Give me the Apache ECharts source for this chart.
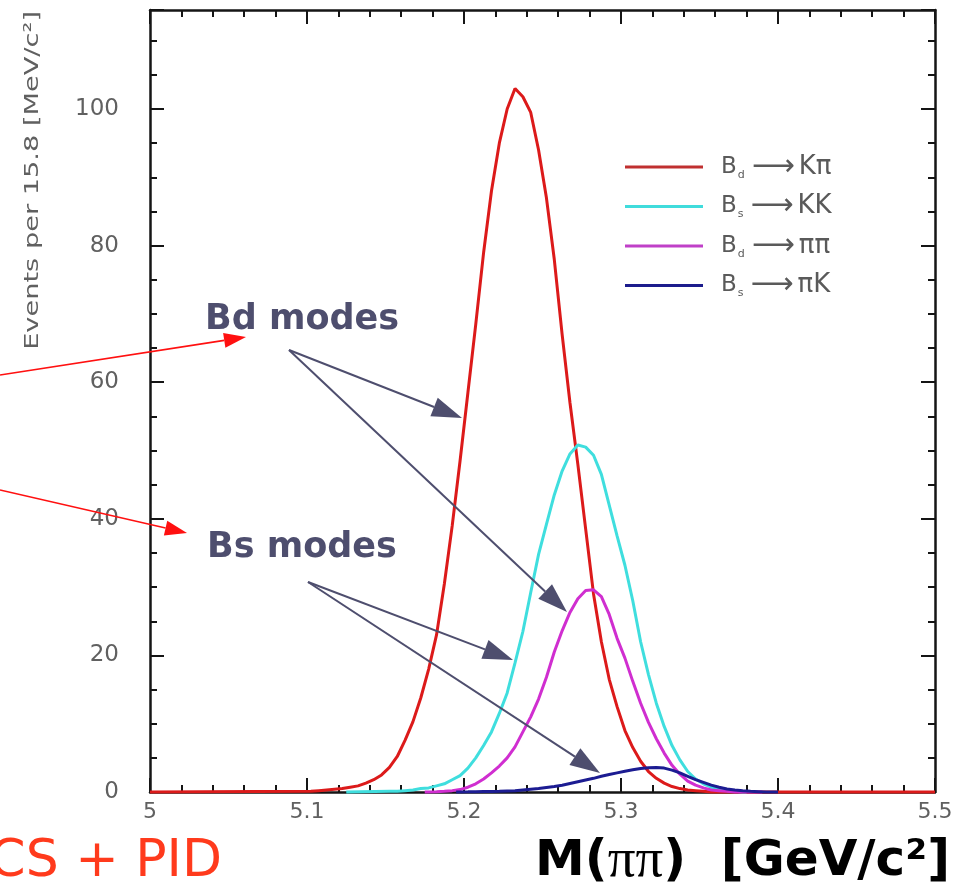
<!DOCTYPE html>
<html><head><meta charset="utf-8">
<script src="https://cdn.jsdelivr.net/npm/echarts@6/dist/echarts.min.js"></script>
<style>html,body{margin:0;padding:0;background:#fff}#c{width:966px;height:892px}</style>
</head><body><div id="c"></div>
<script>
// ---- data ----
const binWidth = 0.005;                       // GeV per bin (visual estimate)
const seriesNames = ['Bd → Kπ', 'Bs → KK', 'Bd → ππ', 'Bs → πK'];
const subscripts = ['d', 's', 'd', 's'];
const finalStates = ['Kπ', 'KK', 'ππ', 'πK'];
const xTickValues = [5, 5.1, 5.2, 5.3, 5.4, 5.5];
const yTickValues = [0, 20, 40, 60, 80, 100];

// Bd -> K pi (red)
const redStart = 5.100;
const redRange = [5.0, 5.5];
const redValues = [0.1, 0.2, 0.3, 0.4, 0.5, 0.7, 0.9, 1.3, 1.8, 2.5, 3.6, 5.2, 7.6, 10.3, 13.8, 18.0,
  23.0, 30.5, 39.0, 48.5, 58.5, 68.5, 79.0, 88.0, 95.0, 100.0, 103.0, 101.8, 99.5, 94.0, 87.0, 78.0,
  67.0, 57.0, 48.0, 38.5, 29.0, 22.0, 16.5, 12.5, 9.0, 6.5, 4.5, 3.0, 2.0, 1.3, 0.8, 0.5, 0.3, 0.2, 0.1];

// Bs -> K K (cyan)
const cyanStart = 5.150;
const cyanRange = [5.125, 5.38];
const cyanValues = [0.1, 0.1, 0.2, 0.3, 0.5, 0.6, 0.9, 1.2, 1.8, 2.4, 3.5, 5.0, 6.8, 8.8, 11.5, 14.5,
  18.9, 23.5, 29.2, 34.8, 39.2, 43.5, 47.0, 49.5, 50.8, 50.5, 49.3, 46.5, 42.0, 37.5, 33.2, 28.0,
  22.0, 17.2, 13.0, 9.6, 6.8, 4.7, 3.0, 1.9, 1.2, 0.7, 0.4, 0.2, 0.1];

// Bd -> pi pi (magenta)
const magentaStart = 5.180;
const magentaRange = [5.175, 5.39];
const magentaValues = [0.05, 0.1, 0.2, 0.35, 0.7, 1.2, 1.9, 2.8, 3.8, 5.0, 6.6, 8.8, 11.0, 13.6, 16.8,
  20.5, 23.6, 26.3, 28.3, 29.5, 29.6, 28.6, 26.0, 22.5, 19.6, 16.2, 13.0, 10.2, 7.8, 5.7, 3.9, 2.6,
  1.6, 1.0, 0.6, 0.3, 0.2, 0.1];

// Bs -> pi K (blue)
const blueStart = 5.200;
const blueRange = [5.195, 5.40];
const blueValues = [0.02, 0.04, 0.06, 0.08, 0.1, 0.15, 0.2, 0.3, 0.4, 0.5, 0.65, 0.8, 1.0, 1.25, 1.5,
  1.75, 2.0, 2.3, 2.55, 2.8, 3.05, 3.25, 3.45, 3.55, 3.6, 3.5, 3.2, 2.8, 2.3, 1.8, 1.4, 1.0, 0.7,
  0.45, 0.3, 0.18, 0.1, 0.05];

// ---- build points at bin centres ----
function hist(start, vals, range) {
  const pts = [[range[0], 0]];
  vals.forEach((v, i) => pts.push([+(start + (i + 0.5) * binWidth).toFixed(5), v]));
  pts.push([+(start + (vals.length + 0.5) * binWidth).toFixed(5), 0]);
  pts.push([range[1], 0]);
  return pts;
}

const colors = ['#dc1a1a', '#3fdede', '#d02ed0', '#1c1c92'];
const legendColors = ['#c03030', '#40dcdc', '#c040c8', '#1c1c8c'];
const histData = [
  hist(redStart, redValues, redRange),
  hist(cyanStart, cyanValues, cyanRange),
  hist(magentaStart, magentaValues, magentaRange),
  hist(blueStart, blueValues, blueRange)
];

// ---- annotation helpers ----
function arrow(x1, y1, x2, y2, color, width, headLen, headW) {
  const dx = x2 - x1, dy = y2 - y1, L = Math.hypot(dx, dy);
  const ux = dx / L, uy = dy / L, nx = -uy, ny = ux;
  const bx = x2 - ux * headLen, by = y2 - uy * headLen;
  return [
    { type: 'line', silent: true, z: 50, shape: { x1: x1, y1: y1, x2: bx, y2: by },
      style: { stroke: color, lineWidth: width } },
    { type: 'polygon', silent: true, z: 50,
      shape: { points: [[x2, y2], [bx + nx * headW / 2, by + ny * headW / 2], [bx - nx * headW / 2, by - ny * headW / 2]] },
      style: { fill: color } }
  ];
}
const slate = '#4e4e6e';
const axisColor = '#151515';
const tickColor = '#151515';

function yAxisDef(pos, interval, len, labels, line) {
  return {
    type: 'value', min: 0, max: 114.5, interval: interval, position: pos,
    axisLine: { show: line, onZero: false, lineStyle: { color: axisColor, width: 2.5 } },
    axisTick: { show: true, inside: true, length: len, lineStyle: { color: tickColor, width: 2 } },
    axisLabel: labels ? {
      show: true, margin: 31, color: '#606060', fontSize: 23, fontFamily: 'DejaVu Sans',
      formatter: v => (yTickValues.indexOf(v) >= 0 ? String(v) : '')
    } : { show: false },
    splitLine: { show: false }
  };
}
function xAxisDef(pos, labels) {
  return {
    type: 'value', min: 5, max: 5.5, interval: 0.1, position: pos,
    axisLine: { show: true, onZero: false, lineStyle: { color: axisColor, width: 2.5 } },
    axisTick: { show: true, inside: true, length: 14, lineStyle: { color: tickColor, width: 2 } },
    minorTick: { show: true, splitNumber: 5, length: 7, lineStyle: { color: tickColor, width: 2 } },
    axisLabel: labels ? {
      show: true, margin: 9, color: '#606060', fontSize: 22, fontFamily: 'DejaVu Sans',
      formatter: v => {
        const r = +(+v).toFixed(1);
        return xTickValues.indexOf(r) >= 0 ? String(r) : '';
      }
    } : { show: false },
    splitLine: { show: false }, minorSplitLine: { show: false }
  };
}

const chart = echarts.init(document.getElementById('c'), null, { renderer: 'canvas' });
const option = {
  animation: false,
  backgroundColor: '#ffffff',
  grid: { left: 150, right: 31, top: 10, bottom: 100, containLabel: false, outerBoundsMode: 'none' },
  xAxis: [xAxisDef('bottom', true), xAxisDef('top', false)],
  yAxis: [
    yAxisDef('left', 20, 14, true, true),
    yAxisDef('left', 5, 7, false, false),
    yAxisDef('right', 20, 14, false, true),
    yAxisDef('right', 5, 7, false, false)
  ],
  legend: {
    orient: 'vertical', left: 620, top: 147, itemWidth: 78, itemHeight: 3, itemGap: 9.5,
    icon: 'rect', selectedMode: false,
    data: seriesNames.map((n, i) => ({ name: n, itemStyle: { color: legendColors[i] } })),
    formatter: name => {
      const i = seriesNames.indexOf(name);
      return '{b|B}{s|' + subscripts[i] + '}{a|⟶}{f|' + finalStates[i] + '}';
    },
    textStyle: {
      rich: {
        b: { fontFamily: 'DejaVu Sans', fontSize: 23, color: '#5a5a5a', lineHeight: 27, padding: [0, 0, 0, 13] },
        s: { fontFamily: 'DejaVu Sans', fontSize: 11, color: '#5a5a5a', verticalAlign: 'bottom', lineHeight: 27, padding: [0, 7, 0, 1] },
        a: { fontFamily: 'DejaVu Sans', fontSize: 30, color: '#5a5a5a', lineHeight: 27, padding: [0, 4, 0, 0] },
        f: { fontFamily: 'DejaVu Sans', fontSize: 26, color: '#5a5a5a', lineHeight: 27 }
      }
    }
  },
  series: seriesNames.map((n, i) => ({
    name: n, type: 'line', data: histData[i], symbol: 'none', clip: false,
    xAxisIndex: 0, yAxisIndex: 0,
    lineStyle: { color: colors[i], width: 3 }, itemStyle: { color: colors[i] },
    z: 3 + i
  })),
  graphic: [
    { type: 'text', silent: true, x: 33, y: 11, rotation: Math.PI / 2, scaleX: 1.36,
      style: { text: 'Events per 15.8 [MeV/c²]', fill: '#606060', font: '20px "DejaVu Sans"',
        align: 'right', verticalAlign: 'middle' } },
    { type: 'text', silent: true, x: 205, y: 320, z: 60,
      style: { text: 'Bd modes', fill: slate, font: 'bold 35px "DejaVu Sans"', align: 'left', verticalAlign: 'middle' } },
    { type: 'text', silent: true, x: 207, y: 548, z: 60,
      style: { text: 'Bs modes', fill: slate, font: 'bold 35px "DejaVu Sans"', align: 'left', verticalAlign: 'middle' } },
    { type: 'text', silent: true, x: 222, y: 862, z: 60,
      style: { text: 'CS + PID', fill: '#ff3a1c', font: '52px "DejaVu Sans"', align: 'right', verticalAlign: 'middle' } },
    { type: 'text', silent: true, x: 950, y: 862, z: 60,
      style: {
        text: '{m|M(}{p|ππ}{m|)  [GeV/c²]}', align: 'right', verticalAlign: 'middle',
        rich: {
          m: { fontFamily: 'DejaVu Sans', fontWeight: 'bold', fontSize: 50, fill: '#000' },
          p: { fontFamily: 'Liberation Serif', fontSize: 55, fill: '#000' }
        }
      } },
    ...arrow(0, 375, 246, 337, '#ff1010', 1.6, 22, 15),
    ...arrow(0, 490, 187, 533, '#ff1010', 1.6, 22, 15),
    ...arrow(289, 350, 462, 418, slate, 2, 30, 20),
    ...arrow(289, 350, 567, 612, slate, 2, 30, 20),
    ...arrow(308, 582, 513, 660, slate, 2, 30, 20),
    ...arrow(308, 582, 600, 773, slate, 2, 30, 20)
  ]
};
chart.setOption(option);
</script>
</body></html>
